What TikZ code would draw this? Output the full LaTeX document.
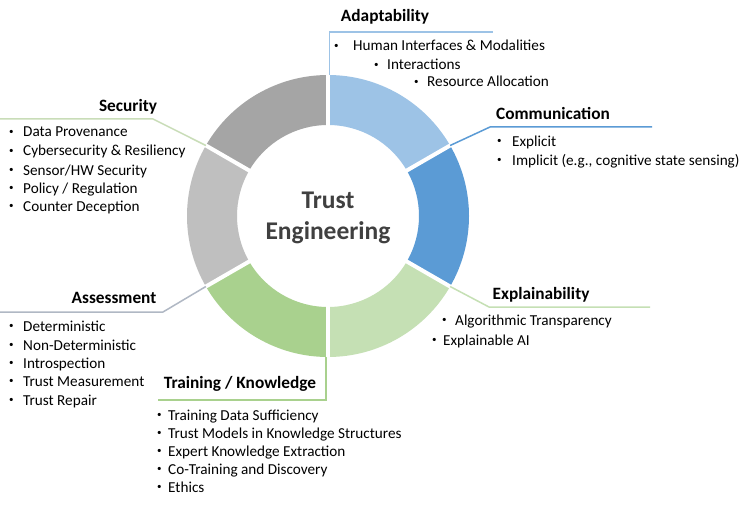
\documentclass[tikz,border=0pt]{standalone}
\usepackage{fontspec}
\setmainfont{Carlito}
\usetikzlibrary{calc}
\definecolor{cAdapt}{HTML}{9DC3E6}
\definecolor{cComm}{HTML}{5B9BD5}
\definecolor{cExpl}{HTML}{C5E0B4}
\definecolor{cTrain}{HTML}{A9D18E}
\definecolor{cAssess}{HTML}{BFBFBF}
\definecolor{cSec}{HTML}{A5A5A5}
\definecolor{lnSec}{HTML}{C9DDB8}
\definecolor{lnAss}{HTML}{B0B8C4}
\definecolor{ctext}{HTML}{404040}
\newcommand{\bdot}{\raisebox{2.2pt}{\fontsize{9}{9}\selectfont\textbullet}}
\newcommand{\bw}[2]{\makebox[#1pt][l]{\bdot}#2}
\begin{document}
\begin{tikzpicture}[x=1pt,y=1pt,
  hdr/.style={font=\fontsize{17.3}{19}\selectfont\bfseries, inner sep=0pt},
  item/.style={font=\fontsize{15.2}{17}\selectfont, inner sep=0pt, anchor=west, text height=9pt, text depth=3pt},
  conn/.style={line width=1.5pt}]
\useasboundingbox (0,0) rectangle (746,523);
\fill[white] (0,0) rectangle (746,523);
\coordinate (c) at (328,307);
% ring segments
\foreach \a/\b/\col in {30/90/cAdapt, -30/30/cComm, -90/-30/cExpl, -150/-90/cTrain, 150/210/cAssess, 90/150/cSec}
  \fill[\col] ($(c)+(\a:141)$) arc[start angle=\a, end angle=\b, radius=141pt] -- ($(c)+(\b:91)$) arc[start angle=\b, end angle=\a, radius=91pt] -- cycle;
\foreach \a in {30,90,150,210,270,330}
  \draw[white, line width=4pt] ($(c)+(\a:86)$) -- ($(c)+(\a:146)$);
% gap points
\coordinate (gAd) at ($(c)+(90:141)+(1.5,0)$);
\coordinate (gCo) at ($(c)+(30:141)$);
\coordinate (gEx) at ($(c)+(-30:141)$);
\coordinate (gTr) at ($(c)+(-90:141)+(-2,0)$);
\coordinate (gAs) at ($(c)+(210:141)$);
\coordinate (gSe) at ($(c)+(150:141)$);
% elbows and ends
\coordinate (adE) at (493,491);
\coordinate (coK) at (490,396);
\coordinate (coE) at (652,396);
\coordinate (exK) at (489,216);
\coordinate (exE) at (650,216);
\coordinate (trE) at (158,123);
\coordinate (asK) at (163,211);
\coordinate (asE) at (0,211);
\coordinate (seK) at (153,404);
\coordinate (seE) at (0,404);
% connectors
\draw[conn, cAdapt] (gAd) |- (adE);
\draw[conn, cComm] (gCo) -- (coK) -- (coE);
\draw[conn, cExpl] (gEx) -- (exK) -- (exE);
\draw[conn, cTrain] (gTr) |- (trE);
\draw[conn, lnAss] (gAs) -- (asK) -- (asE);
\draw[conn, lnSec] (gSe) -- (seK) -- (seE);
% center
\node[font=\fontsize{25.5}{28}\selectfont\bfseries, text=ctext, inner sep=0pt] (t1) at (328,323) {Trust};
\node[font=\fontsize{25.5}{28}\selectfont\bfseries, text=ctext, inner sep=0pt] (t2) at (328,290) {Engineering};
% headers
\node[hdr] (hAd) at (385,506) {Adaptability};
\node[hdr, anchor=west] (hCo) at (496,410) {Communication};
\node[hdr] (hSe) at (128,416) {Security};
\node[hdr] (hAs) at (114,225) {Assessment};
\node[hdr] (hTr) at (240,139) {Training / Knowledge};
\node[hdr] (hEx) at (541,228) {Explainability};
% Adaptability items
\node[item] (a1) at (334,475) {\bw{19}{Human Interfaces \& Modalities}};
\node[item] (a2) at (374,456) {\bw{13}{Interactions}};
\node[item] (a3) at (414,439) {\bw{13}{Resource Allocation}};
% Communication items
\node[item] (c1) at (497,380) {\bw{15}{Explicit}};
\node[item] (c2) at (497,361) {\bw{15}{Implicit (e.g., cognitive state sensing)}};
% Security items
\node[item] (s1) at (9,389) {\bw{14}{Data Provenance}};
\node[item] (s2) at (9,370) {\bw{14}{Cybersecurity \& Resiliency}};
\node[item] (s3) at (9,351) {\bw{14}{Sensor/HW Security}};
\node[item] (s4) at (9,333) {\bw{14}{Policy / Regulation}};
\node[item] (s5) at (9,315) {\bw{14}{Counter Deception}};
% Assessment items
\node[item] (as1) at (9,195) {\bw{14}{Deterministic}};
\node[item] (as2) at (9,176) {\bw{14}{Non-Deterministic}};
\node[item] (as3) at (9,158) {\bw{14}{Introspection}};
\node[item] (as4) at (9,140) {\bw{14}{Trust Measurement}};
\node[item] (as5) at (9,121) {\bw{14}{Trust Repair}};
% Training items
\node[item] (t1i) at (157,106) {\bw{11}{Training Data Sufficiency}};
\node[item] (t2i) at (157,88) {\bw{11}{Trust Models in Knowledge Structures}};
\node[item] (t3i) at (157,70) {\bw{11}{Expert Knowledge Extraction}};
\node[item] (t4i) at (157,52) {\bw{11}{Co-Training and Discovery}};
\node[item] (t5i) at (157,34) {\bw{11}{Ethics}};
% Explainability items
\node[item] (e1) at (442,201) {\bw{13}{Algorithmic Transparency}};
\node[item] (e2) at (432,181) {\bw{11}{Explainable AI}};
\end{tikzpicture}
\end{document}
